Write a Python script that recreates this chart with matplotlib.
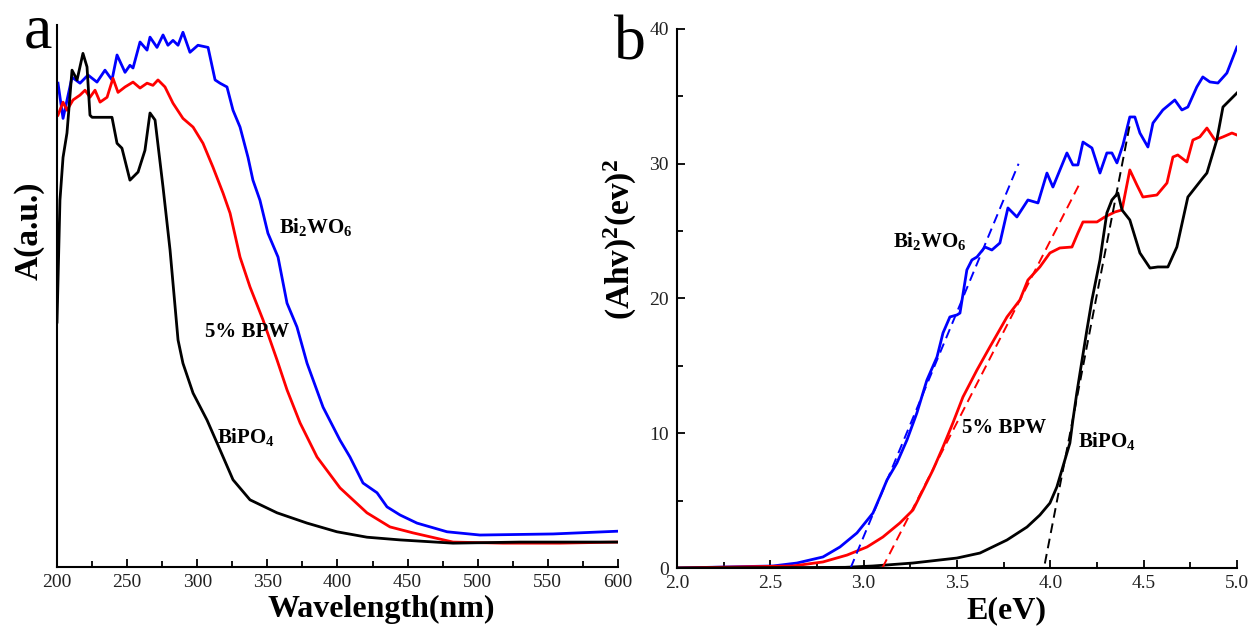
import matplotlib
matplotlib.use('Agg')
from matplotlib import pyplot as plt
from matplotlib.ticker import MultipleLocator

plt.rcParams['font.family'] = ['Liberation Serif', 'DejaVu Serif']
plt.rcParams['mathtext.fontset'] = 'custom'
plt.rcParams['mathtext.rm'] = 'Liberation Serif'
plt.rcParams['mathtext.bf'] = 'Liberation Serif:bold'

# panel a: UV-vis absorbance (a.u.)
wl_bi2wo6 = [200.7, 204.3, 210.7, 216.4, 222.1, 228.5, 234.2, 239.2, 242.8, 248.5, 252.0, 254.2,
             259.2, 264.2, 266.3, 271.3, 275.6, 279.1, 282.7, 286.3, 289.8, 294.8, 300.5, 307.7,
             312.7, 316.2, 321.2, 325.5, 330.5, 336.2, 339.7, 344.7, 350.4, 357.6, 364.0, 371.1,
             378.3, 389.7, 401.8, 408.9, 418.2, 428.2, 435.3, 444.6, 456.7, 478.1, 501.6, 553.7, 599.3]
a_bi2wo6 = [0.893, 0.828, 0.904, 0.893, 0.908, 0.895, 0.917, 0.899, 0.945, 0.913, 0.926, 0.921,
            0.969, 0.954, 0.978, 0.959, 0.982, 0.963, 0.972, 0.963, 0.987, 0.950, 0.963, 0.959,
            0.899, 0.893, 0.886, 0.843, 0.812, 0.756, 0.714, 0.677, 0.616, 0.572, 0.487, 0.443,
            0.376, 0.295, 0.234, 0.203, 0.155, 0.137, 0.111, 0.096, 0.081, 0.065, 0.059, 0.061, 0.066]

wl_bpw = [200.7, 204.3, 207.1, 211.4, 216.4, 220.0, 223.5, 227.1, 230.7, 235.7, 239.9, 243.5,
          248.5, 254.2, 259.2, 264.2, 268.4, 272.0, 277.0, 282.7, 289.8, 297.0, 304.1, 311.2,
          318.4, 323.4, 330.5, 337.6, 346.9, 356.9, 364.0, 373.3, 385.4, 401.8, 421.0, 437.4,
          453.8, 482.4, 518.0, 558.6, 599.3]
a_bpw = [0.834, 0.858, 0.843, 0.862, 0.871, 0.880, 0.867, 0.880, 0.858, 0.867, 0.902, 0.876,
         0.886, 0.895, 0.884, 0.893, 0.889, 0.899, 0.886, 0.856, 0.828, 0.812, 0.782, 0.738,
         0.690, 0.653, 0.572, 0.517, 0.456, 0.382, 0.327, 0.266, 0.203, 0.146, 0.100, 0.074,
         0.063, 0.046, 0.044, 0.044, 0.046]

wl_bipo4 = [200.0, 202.1, 204.3, 207.1, 210.7, 214.3, 218.5, 221.4, 223.5, 225.0, 235.7, 239.2,
            242.8, 246.3, 252.0, 257.8, 262.7, 266.3, 269.9, 275.6, 280.6, 286.3, 289.8, 297.0,
            307.0, 314.1, 325.5, 337.6, 356.9, 378.3, 399.6, 421.0, 444.6, 482.4, 530.1, 599.3]
a_bipo4 = [0.452, 0.677, 0.756, 0.801, 0.917, 0.899, 0.948, 0.923, 0.834, 0.830, 0.830, 0.830,
           0.782, 0.773, 0.714, 0.729, 0.769, 0.838, 0.825, 0.701, 0.585, 0.419, 0.376, 0.321,
           0.271, 0.229, 0.161, 0.124, 0.100, 0.081, 0.065, 0.055, 0.050, 0.044, 0.046, 0.046]

# panel b: Tauc plot
e_bi2wo6 = [2.0, 2.514, 2.643, 2.782, 2.873, 2.964, 3.050, 3.087, 3.125, 3.178, 3.232, 3.285,
            3.339, 3.393, 3.425, 3.462, 3.500, 3.516, 3.553, 3.580, 3.607, 3.650, 3.687, 3.730,
            3.773, 3.821, 3.880, 3.934, 3.982, 4.014, 4.089, 4.121, 4.148, 4.175, 4.223, 4.266,
            4.303, 4.330, 4.357, 4.389, 4.426, 4.453, 4.480, 4.523, 4.550, 4.603, 4.667, 4.705,
            4.737, 4.785, 4.817, 4.855, 4.898, 4.946, 5.0]
t_bi2wo6 = [0.0, 0.15, 0.37, 0.82, 1.56, 2.60, 4.08, 5.27, 6.53, 7.79, 9.50, 11.50,
            13.95, 15.66, 17.44, 18.63, 18.78, 18.92, 22.12, 22.86, 23.08, 23.82, 23.60, 24.12,
            26.72, 26.05, 27.31, 27.09, 29.31, 28.27, 30.80, 29.91, 29.91, 31.61, 31.17, 29.31,
            30.80, 30.80, 30.06, 31.39, 33.47, 33.47, 32.28, 31.24, 33.02, 33.99, 34.73, 33.99,
            34.21, 35.70, 36.44, 36.07, 35.99, 36.73, 38.66]

e_bpw = [2.0, 2.621, 2.782, 2.911, 3.018, 3.103, 3.194, 3.264, 3.318, 3.371, 3.425, 3.478,
         3.532, 3.607, 3.676, 3.768, 3.837, 3.880, 3.944, 3.998, 4.051, 4.116, 4.148, 4.175,
         4.250, 4.292, 4.346, 4.384, 4.426, 4.464, 4.496, 4.571, 4.625, 4.657, 4.683, 4.732,
         4.764, 4.801, 4.839, 4.882, 4.925, 4.973, 5.0]
t_bpw = [0.0, 0.15, 0.45, 0.96, 1.56, 2.30, 3.34, 4.30, 5.79, 7.27, 8.98, 10.76,
         12.69, 14.69, 16.40, 18.63, 19.89, 21.37, 22.34, 23.38, 23.75, 23.82, 24.86, 25.68,
         25.68, 26.05, 26.42, 26.57, 29.54, 28.42, 27.53, 27.68, 28.57, 30.50, 30.65, 30.13,
         31.76, 31.99, 32.65, 31.76, 31.99, 32.28, 32.13]

e_bipo4 = [2.0, 2.9, 3.05, 3.264, 3.5, 3.623, 3.768, 3.875, 3.944, 3.998, 4.035, 4.067,
           4.105, 4.121, 4.142, 4.159, 4.196, 4.223, 4.266, 4.303, 4.330, 4.362, 4.384, 4.426,
           4.480, 4.534, 4.576, 4.630, 4.678, 4.737, 4.817, 4.839, 4.892, 4.925, 5.0]
t_bipo4 = [0.0, 0.05, 0.15, 0.37, 0.74, 1.11, 2.08, 3.04, 3.93, 4.82, 6.01, 7.50,
           9.28, 10.98, 12.99, 14.47, 17.66, 19.89, 22.86, 26.35, 27.31, 27.83, 26.57, 25.83,
           23.38, 22.26, 22.34, 22.34, 23.82, 27.53, 28.94, 29.31, 31.76, 34.21, 35.25]

# tangent (band gap) lines
fit_e_bi2wo6 = [2.93, 3.83]
fit_t_bi2wo6 = [0.0, 30.0]
fit_e_bpw = [3.10, 4.16]
fit_t_bpw = [0.0, 28.6]
fit_e_bipo4 = [3.955, 4.43]
fit_t_bipo4 = [-0.8, 33.2]

fig = plt.figure(figsize=(12.53, 6.30), dpi=100)
ax1 = fig.add_axes([0.0455, 0.100, 0.4477, 0.860])
ax2 = fig.add_axes([0.5403, 0.0984, 0.4469, 0.8556])

lw = 2.0
ax1.plot(wl_bi2wo6, a_bi2wo6, color='#0000ff', lw=lw)
ax1.plot(wl_bpw, a_bpw, color='#ff0000', lw=lw)
ax1.plot(wl_bipo4, a_bipo4, color='black', lw=lw)
ax1.set_xlim(200, 600)
ax1.set_ylim(0, 1.0)
ax1.set_yticks([])
ax1.xaxis.set_major_locator(MultipleLocator(50))
ax1.xaxis.set_minor_locator(MultipleLocator(25))
ax1.set_xlabel('Wavelength(nm)', fontsize=23, fontweight='bold')
ax1.xaxis.set_label_coords(0.578, -0.052)
ax1.set_ylabel('A(a.u.)', fontsize=24, fontweight='bold')
ax1.yaxis.set_label_coords(-0.022, 0.62)
ax1.text(358, 0.627, r'$\mathbf{Bi_2WO_6}$', fontsize=15, va='center')
ax1.text(305.5, 0.434, '5% BPW', fontsize=15, fontweight='bold', va='center')
ax1.text(314, 0.24, r'$\mathbf{BiPO_4}$', fontsize=15, va='center')

ax2.plot(e_bi2wo6, t_bi2wo6, color='#0000ff', lw=lw)
ax2.plot(e_bpw, t_bpw, color='#ff0000', lw=lw)
ax2.plot(e_bipo4, t_bipo4, color='black', lw=lw)
ax2.plot(fit_e_bi2wo6, fit_t_bi2wo6, color='#0000ff', lw=1.4, ls=(0, (5, 3)))
ax2.plot(fit_e_bpw, fit_t_bpw, color='#ff0000', lw=1.4, ls=(0, (5, 3)))
ax2.plot(fit_e_bipo4, fit_t_bipo4, color='black', lw=1.4, ls=(0, (5, 3)))
ax2.set_xlim(2.0, 5.0)
ax2.set_ylim(0, 40)
ax2.xaxis.set_major_locator(MultipleLocator(0.5))
ax2.xaxis.set_minor_locator(MultipleLocator(0.25))
ax2.yaxis.set_major_locator(MultipleLocator(10))
ax2.yaxis.set_minor_locator(MultipleLocator(5))
ax2.xaxis.set_major_formatter(plt.FormatStrFormatter('%.1f'))
ax2.set_xlabel('E(eV)', fontsize=23, fontweight='bold')
ax2.xaxis.set_label_coords(0.589, -0.052)
ax2.set_ylabel(r'$\mathbf{(Ahv)^2(ev)^2}$', fontsize=24)
ax2.yaxis.set_label_coords(-0.068, 0.61)
ax2.text(3.157, 24.3, r'$\mathbf{Bi_2WO_6}$', fontsize=15, va='center')
ax2.text(3.527, 10.4, '5% BPW', fontsize=15, fontweight='bold', va='center')
ax2.text(4.148, 9.4, r'$\mathbf{BiPO_4}$', fontsize=15, va='center')

for ax in (ax1, ax2):
    ax.spines['top'].set_visible(False)
    ax.spines['right'].set_visible(False)
    ax.spines['left'].set_linewidth(1.5)
    ax.spines['bottom'].set_linewidth(1.5)
    ax.tick_params(which='both', direction='in', width=1.3, labelsize=14, pad=5,
                   labelcolor='#222222')
    ax.tick_params(which='major', length=6)
    ax.tick_params(which='minor', length=4)
    ax.patch.set_alpha(0)

ax2.tick_params(axis='y', pad=6)

fig.text(38 / 1253, 1 - 48 / 630, 'a', fontsize=46, ha='center', va='baseline')
fig.text(630 / 1253, 1 - 60 / 630, 'b', fontsize=46, ha='center', va='baseline')

fig.savefig('out.png', dpi=100)
